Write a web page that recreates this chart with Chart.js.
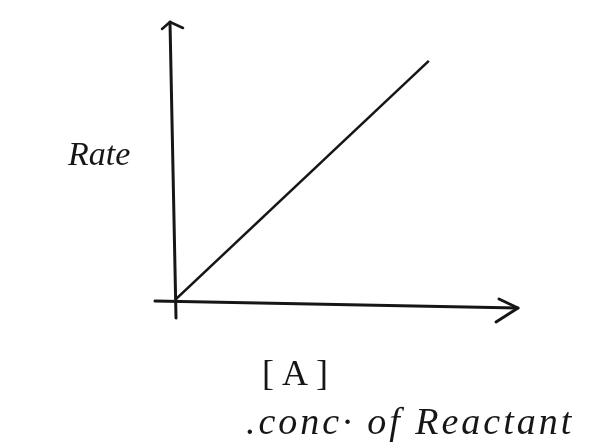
<!DOCTYPE html>
<html>
<head>
<meta charset="utf-8">
<script src="https://cdn.jsdelivr.net/npm/chart.js@4"></script>
<style>
  html, body { margin: 0; padding: 0; background: #fff; }
  #wrap { width: 594px; height: 446px; }
</style>
</head>
<body>
<div id="wrap"><canvas id="rateChart" width="594" height="446"></canvas></div>
<script>
// Rate vs [A]: straight line through the origin

const concValues = [0, 74];
const rateValues = [0, 86];

const yTitle = 'Rate';
const xTitle = '[A]';
const xSubTitle = '.conc· of Reactant';

const ink = '#161616';

// hand-drawn looking axes with arrow heads, plus the labels
const sketchAxes = {
    id: 'sketchAxes',
    afterDraw(chart) {
        const ctx = chart.ctx;
        const x = chart.scales.x;
        const y = chart.scales.y;
        const x0 = x.getPixelForValue(0);
        const y0 = y.getPixelForValue(0);

        ctx.save();
        ctx.strokeStyle = ink;
        ctx.lineCap = 'round';
        ctx.lineJoin = 'round';

        // y axis
        ctx.lineWidth = 3;
        ctx.beginPath();
        ctx.moveTo(x0 + 1, y0 + 18);
        ctx.lineTo(x0 - 5, y.top);
        ctx.stroke();
        ctx.lineWidth = 2.5;
        ctx.beginPath();
        ctx.moveTo(x0 - 13, y.top + 7);
        ctx.lineTo(x0 - 5, y.top);
        ctx.lineTo(x0 + 8, y.top + 6);
        ctx.stroke();

        // x axis
        ctx.lineWidth = 3;
        ctx.beginPath();
        ctx.moveTo(x0 - 20, y0 + 1);
        ctx.lineTo(x.right, y0 + 8);
        ctx.stroke();
        ctx.beginPath();
        ctx.moveTo(x.right - 19, y0 - 1);
        ctx.lineTo(x.right, y0 + 8);
        ctx.lineTo(x.right - 22, y0 + 22);
        ctx.stroke();

        // labels
        ctx.fillStyle = ink;
        ctx.textBaseline = 'alphabetic';
        ctx.font = 'italic 34px "Liberation Serif"';
        ctx.textAlign = 'left';
        ctx.fillText(yTitle, 68, 165);

        ctx.font = '36px "Liberation Serif"';
        ctx.letterSpacing = '8px';
        ctx.fillText(xTitle, 262, 385);

        ctx.font = 'italic 38px "Liberation Serif"';
        ctx.letterSpacing = '3px';
        ctx.fillText(xSubTitle, 246, 434);
        ctx.restore();
    }
};

const lineData = {
    datasets: [{
        data: concValues.map((c, i) => ({ x: c, y: rateValues[i] })),
        borderColor: ink,
        borderWidth: 2.5,
        pointRadius: 0,
        showLine: true,
        fill: false,
    }]
};

const lineConfig = {
    type: 'scatter',
    data: lineData,
    options: {
        responsive: false,
        animation: false,
        layout: {
            padding: { left: 167, right: 76, top: 22, bottom: 138 }
        },
        plugins: {
            legend: { display: false },
            tooltip: { enabled: false },
        },
        scales: {
            x: {
                min: 0,
                max: 100,
                ticks: { display: false },
                grid: { display: false },
                border: { display: false },
            },
            y: {
                min: 0,
                max: 100,
                ticks: { display: false },
                grid: { display: false },
                border: { display: false },
            }
        }
    },
    plugins: [sketchAxes]
};

const rateChart = new Chart(
    document.getElementById('rateChart'),
    lineConfig
);
</script>
</body>
</html>
